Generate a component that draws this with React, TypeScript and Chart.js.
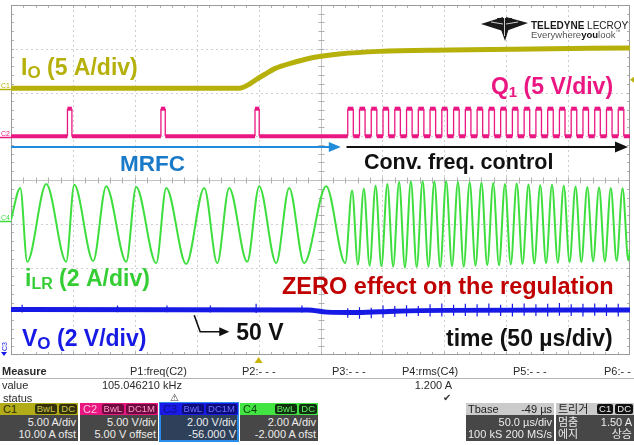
import React, { useEffect, useRef } from "react";
import { Chart, registerables } from "chart.js";

Chart.register(...registerables);

const W = 634;
const H = 445;
const FONT = '"Liberation Sans", Arial, "Noto Sans CJK KR", sans-serif';

// Axes: time in µs (10 div x 50 µs, trigger at 0), vertical in divisions
const timeMin = -200;
const timeMax = 300;
const divMin = -4;
const divMax = 4;
const timeGrid = [-150, -100, -50, 0, 50, 100, 150, 200, 250];
const divGrid = [-3, -2, -1, 0, 1, 2, 3];

// C1 : Io
const ioTime = [-200, -15.5, -7.5, -1.1, 5.3, 12.6, 19, 26.3, 32.8, 46.5, 65.1, 97.4, 154, 205.7, 300];
const ioLevel = [2.1, 2.1, 2.19, 2.31, 2.42, 2.54, 2.61, 2.67, 2.72, 2.81, 2.88, 2.94, 2.97, 2.99, 3.02];

// C2 : Q1 gate
const q1Low = 1.0;
const q1High = 1.63;
const q1PulseStart = [-154.4, -78.9, -2.9, 72, 81.5, 91, 100.5, 110, 119.5, 129, 138.5, 148, 157.5, 167, 176.5, 186, 195.5, 205, 214.5, 224, 233.5, 243, 252.5, 262, 271.5, 281, 290.5];
const q1PulseEnd = [-150.8, -75.4, 0.5, 76.5, 86, 95.5, 105, 114.5, 124, 133.5, 143, 152.5, 162, 171.5, 181, 190.5, 200, 209.5, 219, 228.5, 238, 247.5, 257, 266.5, 276, 285.5, 295];

// C4 : iLR (extrema)
const ilrMrfcTime = [-200, -192.5, -186.9, -171.5, -155.4, -148.9, -133.6, -123.1, -106.9, -98.9, -82.7, -74.6, -58.5, -43.9, -33.4, -23.8, -9.2, 0.5, 14.2, 24.7, 36.8, 54.6, 70.0];
const ilrMrfcLevel = [-0.91, -0.18, -1.87, -0.09, -1.87, -0.11, -1.85, -0.14, -1.87, -0.16, -1.9, -0.18, -1.92, -0.18, -1.9, -0.18, -1.87, -0.14, -1.9, -0.18, -1.9, -0.14, -1.9];
const ilrFastTime = [75.5, 80.2, 85, 89.7, 94.5, 99.2, 104, 108.7, 113.5, 118.2, 123, 127.7, 132.5, 137.2, 142, 146.7, 151.5, 156.2, 161, 165.7, 170.5, 175.2, 180, 184.7, 189.5, 194.2, 199, 203.7, 208.5, 213.2, 218, 222.7, 227.5, 232.2, 237, 241.7, 246.5, 251.2, 256, 260.7, 265.5, 270.2, 275, 279.7, 284.5, 289.2, 294, 298.7, 300];
const ilrFastLevel = [-0.24, -1.93, -0.2, -1.96, -0.13, -1.97, -0.09, -1.98, -0.04, -2.0, -0.03, -1.99, -0.02, -1.98, -0.03, -1.99, -0.02, -1.97, -0.04, -1.98, -0.05, -1.96, -0.06, -1.95, -0.07, -1.95, -0.09, -1.93, -0.08, -1.92, -0.1, -1.91, -0.12, -1.9, -0.11, -1.89, -0.13, -1.88, -0.15, -1.88, -0.16, -1.86, -0.17, -1.86, -0.18, -1.85, -0.19, -1.84, -1.6];

// C3 : Vo
const voTime = [-200, 40, 55, 80, 110, 150, 300];
const voLevel = [-2.96, -2.97, -3.02, -3.03, -3.0, -2.98, -2.97];
const voSpikeTime = [-191, -148, -114, -74, -39, -2, 35, 72, 81.5, 91, 100.5, 110, 119.5, 129, 138.5, 148, 157.5, 167, 176.5, 186, 195.5, 205, 214.5, 224, 233.5, 243, 252.5, 262, 271.5, 281, 290.5];
const voSpikeTop = [-2.85, -2.89, -2.87, -2.87, -2.87, -2.83, -2.87, -2.93, -2.91, -2.92, -2.87, -2.88, -2.86, -2.88, -2.84, -2.82, -2.85, -2.83, -2.84, -2.82, -2.85, -2.83, -2.82, -2.84, -2.83, -2.81, -2.84, -2.83, -2.82, -2.84, -2.83];
const voSpikeBottom = [-3.03, -3.02, -3.02, -3.02, -3.03, -3.04, -3.03, -3.15, -3.17, -3.16, -3.15, -3.13, -3.12, -3.11, -3.12, -3.12, -3.1, -3.11, -3.12, -3.1, -3.11, -3.12, -3.1, -3.11, -3.12, -3.1, -3.11, -3.12, -3.1, -3.11, -3.12];

// Colours
const OLIVE = "rgb(182,176,10)";
const MAGENTA = "rgb(234,22,130)";
const GREEN = "rgb(62,222,62)";
const GREEN_TXT = "rgb(52,206,52)";
const BLUE = "rgb(22,26,228)";
const MRFC_BLUE = "rgb(26,122,200)";
const ARROW_BLUE = "rgb(32,140,218)";

// Annotation texts (anchored in data coordinates: time µs, divisions)
const notes = [
  { parts: [{ t: "I", s: 23 }, { t: "O", s: 17, dy: 3 }, { t: " (5 A/div)", s: 23 }], t: -191.9, v: 2.39, color: OLIVE },
  { parts: [{ t: "Q", s: 23 }, { t: "1", s: 15, dy: 3 }, { t: " (5 V/div)", s: 23 }], t: 187.7, v: 1.966, color: MAGENTA },
  { parts: [{ t: "MRFC", s: 22.5 }], t: -112, v: 0.206, color: MRFC_BLUE },
  { parts: [{ t: "Conv. freq. control", s: 21.5 }], t: 85.1, v: 0.251, color: "#111" },
  { parts: [{ t: "i", s: 23 }, { t: "LR", s: 16, dy: 3 }, { t: " (2 A/div)", s: 23 }], t: -188.7, v: -2.423, color: GREEN_TXT },
  { parts: [{ t: "ZERO effect on the regulation", s: 23.5 }], t: 18.9, v: -2.606, color: "rgb(192,0,0)" },
  { parts: [{ t: "V", s: 23 }, { t: "O", s: 17, dy: 3 }, { t: " (2 V/div)", s: 23 }], t: -191.1, v: -3.794, color: BLUE },
  { parts: [{ t: "50 V", s: 23 }], t: -18.1, v: -3.657, color: "#111" },
  { parts: [{ t: "time (50 µs/div)", s: 23 }], t: 151.4, v: -3.794, color: "#111" },
];

function line(ctx: any, x1: number, y1: number, x2: number, y2: number) {
  ctx.beginPath();
  ctx.moveTo(x1, y1);
  ctx.lineTo(x2, y2);
  ctx.stroke();
}

function poly(ctx: any, pts: number[][]) {
  ctx.beginPath();
  ctx.moveTo(pts[0][0], pts[0][1]);
  for (let i = 1; i < pts.length; i++) ctx.lineTo(pts[i][0], pts[i][1]);
  ctx.closePath();
  ctx.fill();
}

function arrow(ctx: any, pts: number[][], color: string, width: number, headLen: number, headHalf: number) {
  ctx.save();
  ctx.strokeStyle = color;
  ctx.fillStyle = color;
  ctx.lineWidth = width;
  const last = pts[pts.length - 1];
  const prev = pts[pts.length - 2];
  const ang = Math.atan2(last[1] - prev[1], last[0] - prev[0]);
  ctx.beginPath();
  ctx.moveTo(pts[0][0], pts[0][1]);
  for (let i = 1; i < pts.length - 1; i++) ctx.lineTo(pts[i][0], pts[i][1]);
  ctx.lineTo(last[0] - Math.cos(ang) * headLen * 0.8, last[1] - Math.sin(ang) * headLen * 0.8);
  ctx.stroke();
  ctx.beginPath();
  ctx.moveTo(last[0], last[1]);
  ctx.lineTo(last[0] - Math.cos(ang) * headLen - Math.sin(ang) * headHalf, last[1] - Math.sin(ang) * headLen + Math.cos(ang) * headHalf);
  ctx.lineTo(last[0] - Math.cos(ang) * headLen + Math.sin(ang) * headHalf, last[1] - Math.sin(ang) * headLen - Math.cos(ang) * headHalf);
  ctx.closePath();
  ctx.fill();
  ctx.restore();
}

const scopePlugin = {
  id: "scope",
  beforeDatasetsDraw(chart: any) {
    const { ctx, chartArea: a, scales } = chart;
    const xs = scales.x;
    const ys = scales.y;
    ctx.save();
    ctx.fillStyle = "#fff";
    ctx.fillRect(0, 0, W, H);
    ctx.lineWidth = 1;
    ctx.strokeStyle = "#cfcfcf";
    ctx.setLineDash([2, 3]);
    timeGrid.forEach((t) => {
      if (t === 50) return;
      const x = Math.round(xs.getPixelForValue(t)) + 0.5;
      line(ctx, x, a.top, x, a.bottom);
    });
    divGrid.forEach((v) => {
      if (v === 0) return;
      const y = Math.round(ys.getPixelForValue(v)) + 0.5;
      line(ctx, a.left, y, a.right, y);
    });
    ctx.setLineDash([]);
    const cx = Math.round(xs.getPixelForValue(50)) + 0.5;
    const cy = Math.round(ys.getPixelForValue(0)) + 0.5;
    ctx.strokeStyle = "#c2c2c2";
    line(ctx, cx, a.top, cx, a.bottom);
    line(ctx, a.left, cy, a.right, cy);
    ctx.strokeStyle = "#b0b0b0";
    for (let k = 1; k < 40; k++) {
      const y = Math.round(ys.getPixelForValue(divMin + k * 0.2)) + 0.5;
      line(ctx, cx - 3, y, cx + 3, y);
      line(ctx, a.left, y, a.left + 3, y);
      line(ctx, a.right - 3, y, a.right, y);
    }
    for (let k = 1; k < 50; k++) {
      const x = Math.round(xs.getPixelForValue(timeMin + k * 10)) + 0.5;
      line(ctx, x, cy - 3, x, cy + 3);
      line(ctx, x, a.top, x, a.top + 3);
      line(ctx, x, a.bottom - 3, x, a.bottom);
    }
    ctx.strokeStyle = "#9a9a9a";
    ctx.strokeRect(a.left + 0.5, a.top + 0.5, a.right - a.left - 1, a.bottom - a.top - 1);
    ctx.restore();
  },
  afterDatasetsDraw(chart: any) {
    const { ctx, chartArea: a, scales } = chart;
    const px = (t: number) => scales.x.getPixelForValue(t);
    const py = (v: number) => scales.y.getPixelForValue(v);
    ctx.save();

    // Arrows MRFC / conv. freq. control
    const arrowLevel = 0.754;
    arrow(ctx, [[px(timeMin), py(arrowLevel)], [px(66.4), py(arrowLevel)]], ARROW_BLUE, 2, 12, 5);
    arrow(ctx, [[px(71), py(arrowLevel)], [px(298.4), py(arrowLevel)]], "#111", 2.2, 13, 5.5);
    // 50 V pointer
    arrow(ctx, [[px(-52), py(-3.09)], [px(-47.2), py(-3.47)], [px(-23.7), py(-3.47)]], "#111", 1.6, 10, 4.5);

    // Texts
    ctx.textBaseline = "alphabetic";
    notes.forEach((n) => {
      let x = px(n.t);
      const y = py(n.v);
      ctx.fillStyle = n.color;
      n.parts.forEach((p: any) => {
        ctx.font = `bold ${p.s}px ${FONT}`;
        ctx.fillText(p.t, x, y + (p.dy || 0));
        x += ctx.measureText(p.t).width;
      });
    });

    // Channel markers on the left
    ctx.font = `7px ${FONT}`;
    const mark = (level: number, label: string, color: string) => {
      const y = Math.round(py(level)) + 0.5;
      ctx.fillStyle = color;
      ctx.strokeStyle = color;
      ctx.lineWidth = 1.5;
      ctx.fillText(label, 1, y - 1);
      line(ctx, 0, y + 1, a.left, y + 1);
    };
    mark(ioLevel[0], "C1", OLIVE);
    mark(q1Low, "C2", MAGENTA);
    mark(ilrMrfcLevel[0], "C4", GREEN);
    // C3 offset is below the screen
    ctx.save();
    ctx.fillStyle = BLUE;
    ctx.translate(7, a.bottom - 4);
    ctx.rotate(-Math.PI / 2);
    ctx.fillText("C3", 0, 0);
    ctx.restore();
    ctx.fillStyle = BLUE;
    poly(ctx, [[1, a.bottom - 3], [7, a.bottom - 3], [4, a.bottom + 1]]);

    // Trigger level marker at right edge
    const ty = py(2.29);
    ctx.fillStyle = OLIVE;
    poly(ctx, [[a.right, ty], [a.right + 4, ty - 3], [a.right + 4, ty + 3]]);

    // Trigger time marker below the grid
    const tx = px(0);
    ctx.fillStyle = "rgb(200,180,0)";
    poly(ctx, [[tx, a.bottom + 2], [tx - 4, a.bottom + 8], [tx + 4, a.bottom + 8]]);

    // Teledyne LeCroy logo
    ctx.fillStyle = "#1a1a1a";
    poly(ctx, [[481, 24], [503, 17], [503, 31]]);
    poly(ctx, [[528, 23], [506, 17], [506, 31]]);
    poly(ctx, [[497, 18], [512, 18], [505, 41]]);
    ctx.strokeStyle = "#fff";
    ctx.lineWidth = 0.8;
    line(ctx, 491, 22, 503, 24);
    line(ctx, 518, 22, 506, 24);
    line(ctx, 504.5, 18, 504.5, 36);

    ctx.fillStyle = "#1a1a1a";
    ctx.font = `bold 10px ${FONT}`;
    ctx.fillText("TELEDYNE", 531, 29);
    let lx = 531 + ctx.measureText("TELEDYNE").width;
    ctx.font = `10px ${FONT}`;
    ctx.fillText(" LECROY", lx, 29);
    ctx.font = `9.5px ${FONT}`;
    ctx.fillStyle = "#555";
    ctx.fillText("Everywhere", 531, 38);
    lx = 531 + ctx.measureText("Everywhere").width;
    ctx.font = `bold 9.5px ${FONT}`;
    ctx.fillStyle = "#111";
    ctx.fillText("you", lx, 38);
    lx += ctx.measureText("you").width;
    ctx.font = `9.5px ${FONT}`;
    ctx.fillStyle = "#555";
    ctx.fillText("look", lx, 38);
    lx += ctx.measureText("look").width;
    ctx.font = `5px ${FONT}`;
    ctx.fillText("™", lx, 33);

    ctx.restore();
  },
};

const measureHeads = [
  { label: "Measure", x: 2, bold: true },
  { label: "P1:freq(C2)", x: 130 },
  { label: "P2:- - -", x: 242 },
  { label: "P3:- - -", x: 332 },
  { label: "P4:rms(C4)", x: 402 },
  { label: "P5:- - -", x: 513 },
  { label: "P6:- - -", x: 604 },
];

const chBoxes = [
  { left: 0, name: "C1", head: "rgb(178,172,24)", nameColor: "#2e2c08", badgeBg: "#33310c", badgeFg: "rgb(206,200,70)", badges: ["BwL", "DC"], body: "#474747", lines: ["5.00 A/div", "10.00 A ofst"] },
  { left: 80, name: "C2", head: "rgb(232,22,128)", nameColor: "#ffc0dc", badgeBg: "#6e0a3e", badgeFg: "#ff9ccc", badges: ["BwL", "DC1M"], body: "#474747", lines: ["5.00 V/div", "5.00 V offset"] },
  { left: 160, name: "C3", head: "rgb(26,26,232)", nameColor: "#10108a", badgeBg: "#0c0c7a", badgeFg: "#6f6fff", badges: ["BwL", "DC1M"], body: "rgb(46,64,90)", lines: ["2.00 V/div", "-56.000 V"], selected: true },
  { left: 240, name: "C4", head: "rgb(66,228,66)", nameColor: "#0c3c0c", badgeBg: "#0f2f0f", badgeFg: "rgb(96,240,96)", badges: ["BwL", "DC"], body: "#474747", lines: ["2.00 A/div", "-2.000 A ofst"] },
];

function Panel() {
  const base: any = { position: "absolute", fontFamily: FONT, fontSize: 11, lineHeight: "13px", color: "#2a2a2a", whiteSpace: "nowrap" };
  const right = (text: string, r: number, top: number, extra: any = {}) => (
    <div style={{ ...base, left: r - 160, width: 160, textAlign: "right", top, ...extra }}>{text}</div>
  );
  return (
    <>
      {measureHeads.map((m) => (
        <div key={m.label} style={{ ...base, left: m.x, top: 365, fontWeight: m.bold ? "bold" : "normal" }}>{m.label}</div>
      ))}
      <div style={{ position: "absolute", left: 0, top: 378, width: W, height: 1, background: "#b4b4b4" }} />
      <div style={{ ...base, left: 2, top: 379 }}>value</div>
      {right("105.046210 kHz", 182, 379)}
      {right("1.200 A", 452, 379)}
      <div style={{ ...base, left: 3, top: 392 }}>status</div>
      <div style={{ ...base, left: 170, top: 391, fontFamily: "DejaVu Sans", fontSize: 10, color: "#444" }}>⚠</div>
      <div style={{ ...base, left: 443, top: 391, fontFamily: "DejaVu Sans", fontSize: 10, color: "#333" }}>✔</div>

      {chBoxes.map((b) => (
        <div key={b.name} style={{ position: "absolute", left: b.left, top: 403, width: 78, height: 38, boxSizing: "border-box", outline: b.selected ? "2px solid rgb(40,140,232)" : "none", outlineOffset: -1 }}>
          <div style={{ position: "relative", height: 12, background: b.head }}>
            <div style={{ ...base, left: 3, top: 0, lineHeight: "12px", color: b.nameColor }}>{b.name}</div>
            <div style={{ position: "absolute", right: 1, top: 1, display: "flex", gap: 2 }}>
              {b.badges.map((g) => (
                <span key={g} style={{ fontFamily: FONT, fontSize: 9.5, lineHeight: "10px", height: 10, padding: "0 2px", background: b.badgeBg, color: b.badgeFg, borderRadius: 2 }}>{g}</span>
              ))}
            </div>
          </div>
          <div style={{ height: 26, background: b.body, color: "#ececec", fontFamily: FONT, fontSize: 11, lineHeight: "12px", textAlign: "right", paddingRight: 2, paddingTop: 1, boxSizing: "border-box" }}>
            <div>{b.lines[0]}</div>
            <div>{b.lines[1]}</div>
          </div>
        </div>
      ))}

      {/* Timebase */}
      <div style={{ position: "absolute", left: 466, top: 403, width: 88, height: 38 }}>
        <div style={{ position: "relative", height: 12, background: "#cbcbcb" }}>
          <div style={{ ...base, left: 2, top: 0, lineHeight: "12px", color: "#222" }}>Tbase</div>
          <div style={{ ...base, right: 2, top: 0, lineHeight: "12px", color: "#222" }}>-49 µs</div>
        </div>
        <div style={{ position: "relative", height: 26, background: "#474747" }}>
          <div style={{ ...base, right: 2, top: 1, lineHeight: "12px", color: "#ececec" }}>50.0 µs/div</div>
          <div style={{ ...base, left: 2, top: 13, lineHeight: "12px", color: "#ececec" }}>100 kS</div>
          <div style={{ ...base, right: 2, top: 13, lineHeight: "12px", color: "#ececec" }}>200 MS/s</div>
        </div>
      </div>

      {/* Trigger */}
      <div style={{ position: "absolute", left: 556, top: 403, width: 78, height: 38 }}>
        <div style={{ position: "relative", height: 12, background: "#cbcbcb" }}>
          <div style={{ ...base, left: 2, top: 0, lineHeight: "12px", color: "#222" }}>트리거</div>
          <div style={{ position: "absolute", right: 1, top: 1, display: "flex", gap: 2 }}>
            {["C1", "DC"].map((g) => (
              <span key={g} style={{ fontFamily: FONT, fontSize: 9.5, lineHeight: "10px", height: 10, padding: "0 2px", background: "#111", color: "#f0f0f0", borderRadius: 2 }}>{g}</span>
            ))}
          </div>
        </div>
        <div style={{ position: "relative", height: 26, background: "#474747" }}>
          <div style={{ ...base, left: 2, top: 1, lineHeight: "12px", color: "#ececec" }}>멈춤</div>
          <div style={{ ...base, right: 2, top: 1, lineHeight: "12px", color: "#ececec" }}>1.50 A</div>
          <div style={{ ...base, left: 2, top: 13, lineHeight: "12px", color: "#ececec" }}>에지</div>
          <div style={{ ...base, right: 2, top: 13, lineHeight: "12px", color: "#ececec" }}>상승</div>
        </div>
      </div>
    </>
  );
}

export default function App() {
  const ref = useRef<HTMLCanvasElement | null>(null);

  useEffect(() => {
    if (!ref.current) return;

    const ioData = ioTime.map((t, i) => ({ x: t, y: ioLevel[i] }));

    const q1Data: any[] = [{ x: timeMin, y: q1Low }];
    q1PulseStart.forEach((s, i) => {
      const e = q1PulseEnd[i];
      q1Data.push({ x: s, y: q1Low }, { x: s, y: q1High }, { x: e, y: q1High }, { x: e, y: q1Low });
    });
    q1Data.push({ x: timeMax, y: q1Low });

    const ilrData = [
      ...ilrMrfcTime.map((t, i) => ({ x: t, y: ilrMrfcLevel[i] })),
      ...ilrFastTime.map((t, i) => ({ x: t, y: ilrFastLevel[i] })),
    ];

    const voData = voTime.map((t, i) => ({ x: t, y: voLevel[i] }));
    const voSpikes: any[] = [];
    voSpikeTime.forEach((t, i) => {
      voSpikes.push({ x: t, y: voSpikeTop[i] }, { x: t, y: voSpikeBottom[i] }, { x: t, y: null });
    });

    const chart = new Chart(ref.current, {
      type: "line",
      data: {
        datasets: [
          { label: "Io", data: ioData, borderColor: OLIVE, borderWidth: 5, cubicInterpolationMode: "monotone", pointRadius: 0 },
          {
            label: "Q1",
            data: q1Data,
            borderColor: MAGENTA,
            borderWidth: 4,
            tension: 0,
            pointRadius: 0,
            segment: {
              borderWidth: (c: any) => (c.p0.parsed.x === c.p1.parsed.x ? 1.3 : 4),
            },
          },
          { label: "iLR", data: ilrData, borderColor: GREEN, borderWidth: 2, cubicInterpolationMode: "monotone", pointRadius: 0 },
          { label: "Vo", data: voData, borderColor: BLUE, borderWidth: 5, cubicInterpolationMode: "monotone", pointRadius: 0 },
          { label: "Vo noise", data: voSpikes, borderColor: BLUE, borderWidth: 1.2, tension: 0, spanGaps: false, pointRadius: 0 },
        ],
      },
      options: {
        responsive: false,
        animation: false,
        devicePixelRatio: 1,
        layout: { padding: { left: 11, top: 5, right: 4, bottom: 90 } },
        plugins: { legend: { display: false }, tooltip: { enabled: false } },
        scales: {
          x: { type: "linear", min: timeMin, max: timeMax, display: false },
          y: { type: "linear", min: divMin, max: divMax, display: false },
        },
        elements: { point: { radius: 0 } },
      },
      plugins: [scopePlugin],
    } as any);

    return () => chart.destroy();
  }, []);

  return (
    <div style={{ position: "absolute", left: 0, top: 0, width: W, height: H, background: "#fff", overflow: "hidden" }}>
      <canvas ref={ref} width={W} height={H} style={{ display: "block", width: W, height: H }} />
      <Panel />
    </div>
  );
}
